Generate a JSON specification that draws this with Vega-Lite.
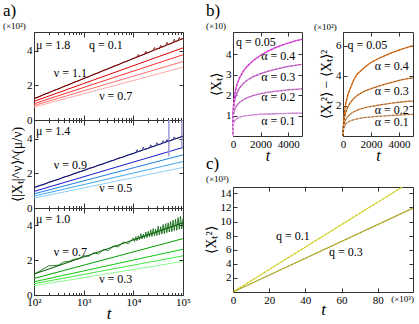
{
 "$schema": "https://vega.github.io/schema/vega-lite/v6.json",
 "autosize": {"type": "pad"},
 "padding": {"left": 2, "top": 1, "right": 0, "bottom": 0},
 "config": {
  "view": {"stroke": "#333", "strokeWidth": 1},
  "axis": {"domain": false, "grid": false, "tickColor": "#333", "labelFont": "Liberation Serif", "labelFontSize": 11, "labelColor": "#000", "titleFont": "Liberation Serif", "titleFontWeight": "normal", "titleFontSize": 14, "titleColor": "#000", "tickSize": -4, "labelPadding": 6, "labelFlush": false, "labelOverlap": false},
  "title": {"font": "Liberation Serif", "fontWeight": "normal", "anchor": "start", "frame": "group", "color": "#000", "subtitleFont": "Liberation Serif", "subtitleColor": "#000", "subtitleFontSize": 9},
  "text": {"font": "Liberation Serif", "fontSize": 12, "color": "#000"},
  "line": {"strokeWidth": 1}
 },
 "datasets": {
  "aline": [
   {"p":"a1","k":"1","t":100,"y":1.24},{"p":"a1","k":"1","t":100000,"y":4.72},
   {"p":"a1","k":"2","t":100,"y":1.08},{"p":"a1","k":"2","t":100000,"y":4.18},
   {"p":"a1","k":"3","t":100,"y":0.94},{"p":"a1","k":"3","t":100000,"y":3.78},
   {"p":"a1","k":"4","t":100,"y":0.84},{"p":"a1","k":"4","t":100000,"y":3.39},
   {"p":"a1","k":"5","t":100,"y":0.75},{"p":"a1","k":"5","t":100000,"y":3.06},
   {"p":"a2","k":"1","t":100,"y":1.18},{"p":"a2","k":"1","t":100000,"y":4.16},
   {"p":"a2","k":"2","t":100,"y":0.96},{"p":"a2","k":"2","t":100000,"y":3.51},
   {"p":"a2","k":"3","t":100,"y":0.82},{"p":"a2","k":"3","t":100000,"y":3.08},
   {"p":"a2","k":"4","t":100,"y":0.69},{"p":"a2","k":"4","t":100000,"y":2.69},
   {"p":"a2","k":"5","t":100,"y":0.57},{"p":"a2","k":"5","t":100000,"y":2.35},
   {"p":"a3","k":"1","t":100,"y":1.2},{"p":"a3","k":"1","t":100000,"y":4.15},
   {"p":"a3","k":"2","t":100,"y":0.95},{"p":"a3","k":"2","t":100000,"y":3.24},
   {"p":"a3","k":"3","t":100,"y":0.76},{"p":"a3","k":"3","t":100000,"y":2.63},
   {"p":"a3","k":"4","t":100,"y":0.65},{"p":"a3","k":"4","t":100000,"y":2.25},
   {"p":"a3","k":"5","t":100,"y":0.53},{"p":"a3","k":"5","t":100000,"y":1.93}
  ],
  "noisy": [
   {"t":100,"a1":1.24,"a2":1.18,"a3":1.2},
   {"t":125.9,"a1":1.33,"a2":1.3,"a3":1.35},
   {"t":158.5,"a1":1.49,"a2":1.36,"a3":1.52},
   {"t":199.5,"a1":1.58,"a2":1.5,"a3":1.68},
   {"t":251.2,"a1":1.72,"a2":1.59,"a3":1.69},
   {"t":316.2,"a1":1.8,"a2":1.66,"a3":1.72},
   {"t":398.1,"a1":1.95,"a2":1.8,"a3":1.9},
   {"t":501.2,"a1":2.04,"a2":1.86,"a3":1.93},
   {"t":631,"a1":2.19,"a2":1.99,"a3":2.05},
   {"t":794.3,"a1":2.27,"a2":2.09,"a3":2.1},
   {"t":1000,"a1":2.42,"a2":2.16,"a3":2.25},
   {"t":1258.9,"a1":2.5,"a2":2.3,"a3":2.22},
   {"t":1584.9,"a1":2.65,"a2":2.36,"a3":2.42},
   {"t":1995.3,"a1":2.74,"a2":2.49,"a3":2.36},
   {"t":2511.9,"a1":2.88,"a2":2.56,"a3":2.62},
   {"t":3162.3,"a1":2.97,"a2":2.69,"a3":2.55},
   {"t":3981.1,"a1":3.12,"a2":2.76,"a3":2.82},
   {"t":5011.9,"a1":3.2,"a2":2.89,"a3":2.76},
   {"t":6309.6,"a1":3.35,"a2":2.95,"a3":3.05},
   {"t":7943.3,"a1":3.43,"a2":3.09,"a3":2.95},
   {"t":10000,"a1":3.58,"a2":3.15,"a3":3.28},
   {"t":10593,"a1":3.57,"a2":3.21,"a3":3.08},
   {"t":11220,"a1":3.66,"a2":3.2,"a3":3.35},
   {"t":11885,"a1":3.62,"a2":3.38,"a3":3.12},
   {"t":12589,"a1":3.8,"a2":3.26,"a3":3.4},
   {"t":13335,"a1":3.69,"a2":3.3,"a3":3.18},
   {"t":14125,"a1":3.75,"a2":3.31,"a3":3.52},
   {"t":14962,"a1":3.74,"a2":3.35,"a3":3.22},
   {"t":15849,"a1":3.8,"a2":3.52,"a3":3.5},
   {"t":16788,"a1":3.79,"a2":3.39,"a3":3.25},
   {"t":17783,"a1":3.98,"a2":3.42,"a3":3.62},
   {"t":18836,"a1":3.86,"a2":3.43,"a3":3.3},
   {"t":19953,"a1":3.92,"a2":3.47,"a3":3.66},
   {"t":21135,"a1":3.91,"a2":3.48,"a3":3.34},
   {"t":22387,"a1":3.99,"a2":3.66,"a3":3.75},
   {"t":23714,"a1":3.97,"a2":3.54,"a3":3.36},
   {"t":25119,"a1":4.05,"a2":3.57,"a3":3.82},
   {"t":26607,"a1":4.2,"a2":3.58,"a3":3.4},
   {"t":28184,"a1":4.07,"a2":3.62,"a3":3.78},
   {"t":29854,"a1":4.12,"a2":3.78,"a3":3.42},
   {"t":31623,"a1":4.16,"a2":3.66,"a3":3.95},
   {"t":33497,"a1":4.14,"a2":3.69,"a3":3.46},
   {"t":35481,"a1":4.33,"a2":3.7,"a3":3.92},
   {"t":37584,"a1":4.21,"a2":3.74,"a3":3.5},
   {"t":39811,"a1":4.27,"a2":3.9,"a3":4.05},
   {"t":42170,"a1":4.26,"a2":3.79,"a3":3.52},
   {"t":44668,"a1":4.32,"a2":3.81,"a3":4.1},
   {"t":47315,"a1":4.5,"a2":3.97,"a3":3.58},
   {"t":50119,"a1":4.36,"a2":3.86,"a3":4.15},
   {"t":53088,"a1":4.42,"a2":3.89,"a3":3.62},
   {"t":56234,"a1":4.41,"a2":3.9,"a3":4.22},
   {"t":59566,"a1":4.47,"a2":3.95,"a3":3.64},
   {"t":63096,"a1":4.48,"a2":3.96,"a3":4.3},
   {"t":66834,"a1":4.68,"a2":4.12,"a3":3.7},
   {"t":70795,"a1":4.53,"a2":4.01,"a3":4.35},
   {"t":74989,"a1":4.59,"a2":4.04,"a3":3.72},
   {"t":79433,"a1":4.6,"a2":4.05,"a3":4.45},
   {"t":84140,"a1":4.78,"a2":4.09,"a3":3.78},
   {"t":89125,"a1":4.65,"a2":4.11,"a3":4.52},
   {"t":94406,"a1":4.7,"a2":4.15,"a3":3.8},
   {"t":100000,"a1":4.73,"a2":4.16,"a3":4.4}
  ],
  "err": [
   {"t":52000,"lo":3.0,"hi":5.1},
   {"t":95000,"lo":3.4,"hi":5.1}
  ],
  "bdat": [
   {"a":"0.4","t":0,"y1":0,"y2":0},{"a":"0.4","t":10,"y1":1.1,"y2":0.35},{"a":"0.4","t":30,"y1":1.45,"y2":0.8},{"a":"0.4","t":60,"y1":1.7,"y2":1.15},{"a":"0.4","t":100,"y1":1.92,"y2":1.5},{"a":"0.4","t":200,"y1":2.3,"y2":2.2},{"a":"0.4","t":350,"y1":2.64,"y2":2.75},{"a":"0.4","t":500,"y1":2.88,"y2":3.13},{"a":"0.4","t":750,"y1":3.18,"y2":3.7},{"a":"0.4","t":1000,"y1":3.4,"y2":4.1},{"a":"0.4","t":1500,"y1":3.72,"y2":4.55},{"a":"0.4","t":2000,"y1":3.96,"y2":4.9},{"a":"0.4","t":2500,"y1":4.15,"y2":5.15},{"a":"0.4","t":3000,"y1":4.31,"y2":5.35},{"a":"0.4","t":3500,"y1":4.44,"y2":5.55},{"a":"0.4","t":4000,"y1":4.56,"y2":5.72},{"a":"0.4","t":4500,"y1":4.66,"y2":5.88},{"a":"0.4","t":5000,"y1":4.74,"y2":6.02},
   {"a":"0.3","t":0,"y1":0,"y2":0},{"a":"0.3","t":10,"y1":1.0,"y2":0.3},{"a":"0.3","t":30,"y1":1.3,"y2":0.6},{"a":"0.3","t":60,"y1":1.5,"y2":0.9},{"a":"0.3","t":100,"y1":1.68,"y2":1.2},{"a":"0.3","t":200,"y1":1.95,"y2":1.6},{"a":"0.3","t":350,"y1":2.2,"y2":1.95},{"a":"0.3","t":500,"y1":2.38,"y2":2.2},{"a":"0.3","t":750,"y1":2.58,"y2":2.48},{"a":"0.3","t":1000,"y1":2.72,"y2":2.7},{"a":"0.3","t":1500,"y1":2.92,"y2":2.97},{"a":"0.3","t":2000,"y1":3.06,"y2":3.15},{"a":"0.3","t":2500,"y1":3.17,"y2":3.3},{"a":"0.3","t":3000,"y1":3.26,"y2":3.45},{"a":"0.3","t":3500,"y1":3.34,"y2":3.58},{"a":"0.3","t":4000,"y1":3.41,"y2":3.7},{"a":"0.3","t":4500,"y1":3.46,"y2":3.8},{"a":"0.3","t":5000,"y1":3.51,"y2":3.88},
   {"a":"0.2","t":0,"y1":0,"y2":0},{"a":"0.2","t":10,"y1":0.8,"y2":0.25},{"a":"0.2","t":30,"y1":1.0,"y2":0.45},{"a":"0.2","t":60,"y1":1.15,"y2":0.65},{"a":"0.2","t":100,"y1":1.25,"y2":0.85},{"a":"0.2","t":200,"y1":1.42,"y2":1.1},{"a":"0.2","t":350,"y1":1.56,"y2":1.3},{"a":"0.2","t":500,"y1":1.66,"y2":1.45},{"a":"0.2","t":750,"y1":1.78,"y2":1.6},{"a":"0.2","t":1000,"y1":1.87,"y2":1.72},{"a":"0.2","t":1500,"y1":1.99,"y2":1.87},{"a":"0.2","t":2000,"y1":2.08,"y2":1.97},{"a":"0.2","t":2500,"y1":2.14,"y2":2.05},{"a":"0.2","t":3000,"y1":2.19,"y2":2.12},{"a":"0.2","t":3500,"y1":2.23,"y2":2.19},{"a":"0.2","t":4000,"y1":2.26,"y2":2.25},{"a":"0.2","t":4500,"y1":2.29,"y2":2.3},{"a":"0.2","t":5000,"y1":2.31,"y2":2.33},
   {"a":"0.1","t":0,"y1":0,"y2":0},{"a":"0.1","t":10,"y1":0.45,"y2":0.2},{"a":"0.1","t":30,"y1":0.58,"y2":0.38},{"a":"0.1","t":60,"y1":0.66,"y2":0.52},{"a":"0.1","t":100,"y1":0.72,"y2":0.63},{"a":"0.1","t":200,"y1":0.81,"y2":0.8},{"a":"0.1","t":350,"y1":0.88,"y2":0.92},{"a":"0.1","t":500,"y1":0.92,"y2":1.0},{"a":"0.1","t":750,"y1":0.97,"y2":1.08},{"a":"0.1","t":1000,"y1":1.0,"y2":1.14},{"a":"0.1","t":1500,"y1":1.04,"y2":1.22},{"a":"0.1","t":2000,"y1":1.07,"y2":1.27},{"a":"0.1","t":2500,"y1":1.08,"y2":1.31},{"a":"0.1","t":3000,"y1":1.09,"y2":1.34},{"a":"0.1","t":3500,"y1":1.1,"y2":1.37},{"a":"0.1","t":4000,"y1":1.11,"y2":1.4},{"a":"0.1","t":4500,"y1":1.115,"y2":1.42},{"a":"0.1","t":5000,"y1":1.12,"y2":1.44}
  ],
  "cdat": [
   {"q":"0.1","t":0,"y":0},{"q":"0.1","t":93.5,"y":14.9},
   {"q":"0.3","t":0,"y":0},{"q":"0.3","t":99.5,"y":11.9}
  ]
 },
 "spacing": 12,
 "resolve": {"scale": {"color": "independent"}},
 "hconcat": [
  {
   "vconcat": [
    {
     "width": 149, "height": 88,
     "title": {"text": "\u00a0\u00a0a)", "subtitle": "(×10²)", "dx": -31, "fontSize": 17, "offset": 0, "subtitlePadding": 2},
     "resolve": {"axis": {"x": "independent", "y": "independent"}},
     "layer": [
      {"data": {"name": "aline"}, "transform": [{"filter": "datum.p == 'a1'"}], "mark": "line",
       "encoding": {
        "x": {"field": "t", "type": "quantitative", "scale": {"type": "log", "domain": [100, 100000], "nice": false},
              "axis": {"orient": "bottom", "values": [100,200,300,400,500,600,700,800,900,1000,2000,3000,4000,5000,6000,7000,8000,9000,10000,20000,30000,40000,50000,60000,70000,80000,90000,100000], "labels": false, "title": null,
                       "tickSize": {"condition": {"test": "datum.value == 100 || datum.value == 1000 || datum.value == 10000 || datum.value == 100000", "value": -5}, "value": -2.5}}},
        "y": {"field": "y", "type": "quantitative", "scale": {"domain": [0, 5.1], "nice": false}, "axis": {"orient": "left", "values": [0, 2, 4], "title": null, "labelOverlap": false}},
        "color": {"field": "k", "type": "nominal", "scale": {"domain": ["1","2","3","4","5"], "range": ["#7a0000","#e00000","#ff3030","#ff6a6a","#ffa8a8"]}, "legend": null}
       }},
      {"data": {"name": "noisy"}, "mark": {"type": "line", "color": "#6a0000", "strokeWidth": 0.8},
       "encoding": {
        "x": {"field": "t", "type": "quantitative", "axis": {"orient": "top", "values": [100,200,300,400,500,600,700,800,900,1000,2000,3000,4000,5000,6000,7000,8000,9000,10000,20000,30000,40000,50000,60000,70000,80000,90000,100000], "labels": false, "title": null,
                       "tickSize": {"condition": {"test": "datum.value == 100 || datum.value == 1000 || datum.value == 10000 || datum.value == 100000", "value": -5}, "value": -2.5}}},
        "y": {"field": "a1", "type": "quantitative", "axis": {"orient": "right", "values": [0, 2, 4], "labels": false, "title": null}}}},
      {"data": {"values": [{}]}, "mark": {"type": "text", "text": "μ = 1.8", "align": "left"}, "encoding": {"x": {"datum": 110, "axis": null}, "y": {"datum": 4.35, "axis": null}}},
      {"data": {"values": [{}]}, "mark": {"type": "text", "text": "q = 0.1", "align": "left"}, "encoding": {"x": {"datum": 1280, "axis": null}, "y": {"datum": 4.35, "axis": null}}},
      {"data": {"values": [{}]}, "mark": {"type": "text", "text": "ν = 1.1", "align": "left"}, "encoding": {"x": {"datum": 251, "axis": null}, "y": {"datum": 2.7, "axis": null}}},
      {"data": {"values": [{}]}, "mark": {"type": "text", "text": "ν = 0.7", "align": "left"}, "encoding": {"x": {"datum": 2050, "axis": null}, "y": {"datum": 1.41, "axis": null}}}
     ]
    },
    {
     "width": 149, "height": 88,
     "resolve": {"axis": {"x": "independent", "y": "independent"}},
     "layer": [
      {"data": {"name": "aline"}, "transform": [{"filter": "datum.p == 'a2'"}], "mark": "line",
       "encoding": {
        "x": {"field": "t", "type": "quantitative", "scale": {"type": "log", "domain": [100, 100000], "nice": false},
              "axis": {"orient": "bottom", "values": [100,200,300,400,500,600,700,800,900,1000,2000,3000,4000,5000,6000,7000,8000,9000,10000,20000,30000,40000,50000,60000,70000,80000,90000,100000], "labels": false, "title": null,
                       "tickSize": {"condition": {"test": "datum.value == 100 || datum.value == 1000 || datum.value == 10000 || datum.value == 100000", "value": -5}, "value": -2.5}}},
        "y": {"field": "y", "type": "quantitative", "scale": {"domain": [0, 5.1], "nice": false}, "axis": {"orient": "left", "values": [0, 2, 4], "title": "⟨|Xₜ|^ν⟩^(μ/ν)", "titlePadding": 2, "labelOverlap": false}},
        "color": {"field": "k", "type": "nominal", "scale": {"domain": ["1","2","3","4","5"], "range": ["#14147a","#1a1ad0","#1a80e0","#40a8f0","#90d0f8"]}, "legend": null}
       }},
      {"data": {"name": "err"}, "mark": {"type": "rule", "color": "#9a9ad8", "strokeWidth": 1.5},
       "encoding": {"x": {"field": "t", "type": "quantitative", "axis": null}, "y": {"field": "lo", "type": "quantitative", "axis": null}, "y2": {"field": "hi"}}},
      {"data": {"name": "noisy"}, "mark": {"type": "line", "color": "#10106a", "strokeWidth": 0.8},
       "encoding": {
        "x": {"field": "t", "type": "quantitative", "axis": {"orient": "top", "values": [100,200,300,400,500,600,700,800,900,1000,2000,3000,4000,5000,6000,7000,8000,9000,10000,20000,30000,40000,50000,60000,70000,80000,90000,100000], "labels": false, "title": null,
                       "tickSize": {"condition": {"test": "datum.value == 100 || datum.value == 1000 || datum.value == 10000 || datum.value == 100000", "value": -5}, "value": -2.5}}},
        "y": {"field": "a2", "type": "quantitative", "axis": {"orient": "right", "values": [0, 2, 4], "labels": false, "title": null}}}},
      {"data": {"values": [{}]}, "mark": {"type": "text", "text": "μ = 1.4", "align": "left"}, "encoding": {"x": {"datum": 110, "axis": null}, "y": {"datum": 4.47, "axis": null}}},
      {"data": {"values": [{}]}, "mark": {"type": "text", "text": "ν = 0.9", "align": "left"}, "encoding": {"x": {"datum": 251, "axis": null}, "y": {"datum": 2.47, "axis": null}}},
      {"data": {"values": [{}]}, "mark": {"type": "text", "text": "ν = 0.5", "align": "left"}, "encoding": {"x": {"datum": 2050, "axis": null}, "y": {"datum": 1.18, "axis": null}}}
     ]
    },
    {
     "width": 149, "height": 87,
     "resolve": {"axis": {"x": "independent", "y": "independent"}},
     "layer": [
      {"data": {"name": "aline"}, "transform": [{"filter": "datum.p == 'a3'"}], "mark": "line",
       "encoding": {
        "x": {"field": "t", "type": "quantitative", "scale": {"type": "log", "domain": [100, 100000], "nice": false},
              "axis": {"orient": "bottom", "values": [100,200,300,400,500,600,700,800,900,1000,2000,3000,4000,5000,6000,7000,8000,9000,10000,20000,30000,40000,50000,60000,70000,80000,90000,100000],
                       "labelExpr": "datum.value == 100 ? '10²' : datum.value == 1000 ? '10³' : datum.value == 10000 ? '10⁴' : datum.value == 100000 ? '10⁵' : ''",
                       "title": "t", "titleFontStyle": "italic", "titleFontSize": 17, "titlePadding": -4,
                       "tickSize": {"condition": {"test": "datum.value == 100 || datum.value == 1000 || datum.value == 10000 || datum.value == 100000", "value": -5}, "value": -2.5}}},
        "y": {"field": "y", "type": "quantitative", "scale": {"domain": [0, 5.0], "nice": false}, "axis": {"orient": "left", "values": [0, 2, 4], "title": null, "labelOverlap": false}},
        "color": {"field": "k", "type": "nominal", "scale": {"domain": ["1","2","3","4","5"], "range": ["#005a00","#00a000","#10c810","#40e840","#90f890"]}, "legend": null}
       }},
      {"data": {"name": "noisy"}, "mark": {"type": "line", "color": "#006000", "strokeWidth": 0.8},
       "encoding": {
        "x": {"field": "t", "type": "quantitative", "axis": {"orient": "top", "values": [100,200,300,400,500,600,700,800,900,1000,2000,3000,4000,5000,6000,7000,8000,9000,10000,20000,30000,40000,50000,60000,70000,80000,90000,100000], "labels": false, "title": null,
                       "tickSize": {"condition": {"test": "datum.value == 100 || datum.value == 1000 || datum.value == 10000 || datum.value == 100000", "value": -5}, "value": -2.5}}},
        "y": {"field": "a3", "type": "quantitative", "axis": {"orient": "right", "values": [0, 2, 4], "labels": false, "title": null}}}},
      {"data": {"values": [{}]}, "mark": {"type": "text", "text": "μ = 1.0", "align": "left"}, "encoding": {"x": {"datum": 110, "axis": null}, "y": {"datum": 4.34, "axis": null}}},
      {"data": {"values": [{}]}, "mark": {"type": "text", "text": "ν = 0.7", "align": "left"}, "encoding": {"x": {"datum": 251, "axis": null}, "y": {"datum": 2.46, "axis": null}}},
      {"data": {"values": [{}]}, "mark": {"type": "text", "text": "ν = 0.3", "align": "left"}, "encoding": {"x": {"datum": 2050, "axis": null}, "y": {"datum": 0.91, "axis": null}}}
     ]
    }
   ],
   "spacing": 0,
   "bounds": "flush",
   "resolve": {"scale": {"color": "independent"}}
  },
  {
   "vconcat": [
    {
     "hconcat": [
      {
       "width": 69, "height": 104,
       "title": {"text": "b)", "subtitle": "(×10)", "dx": -27, "fontSize": 17, "offset": 0, "subtitlePadding": 2},
       "data": {"name": "bdat"},
       "resolve": {"axis": {"x": "independent", "y": "independent"}},
       "layer": [
        {"mark": {"type": "line", "strokeWidth": 1.3},
         "encoding": {
          "x": {"field": "t", "type": "quantitative", "scale": {"domain": [0, 5000], "nice": false}, "axis": {"orient": "bottom", "values": [0, 2000, 4000], "format": "d", "title": "t", "titleFontStyle": "italic", "titleFontSize": 16, "titlePadding": -2}},
          "y": {"field": "y1", "type": "quantitative", "scale": {"domain": [0, 5.1], "nice": false}, "axis": {"orient": "left", "values": [1, 2, 3, 4], "title": "⟨Xₜ⟩", "titlePadding": 2, "labelOverlap": false}},
          "color": {"field": "a", "type": "nominal", "scale": {"domain": ["0.4","0.3","0.2","0.1"], "range": ["#c810c8","#b040b0","#b850b8","#c87ac8"]}, "legend": null}
         }},
        {"mark": {"type": "line", "strokeWidth": 0.6, "strokeDash": [2, 2], "color": "#f4c8f4"},
         "encoding": {"x": {"field": "t", "type": "quantitative", "axis": {"orient": "top", "values": [0, 2000, 4000], "labels": false, "title": null}}, "y": {"field": "y1", "type": "quantitative", "axis": {"orient": "right", "values": [1, 2, 3, 4], "labels": false, "title": null}}, "detail": {"field": "a"}}},
        {"data": {"values": [{}]}, "mark": {"type": "text", "text": "q = 0.05", "align": "left"}, "encoding": {"x": {"datum": 220, "axis": null}, "y": {"datum": 4.62, "axis": null}}},
        {"data": {"values": [{}]}, "mark": {"type": "text", "text": "α = 0.4", "align": "left"}, "encoding": {"x": {"datum": 2050, "axis": null}, "y": {"datum": 3.93, "axis": null}}},
        {"data": {"values": [{}]}, "mark": {"type": "text", "text": "α = 0.3", "align": "left"}, "encoding": {"x": {"datum": 2050, "axis": null}, "y": {"datum": 2.89, "axis": null}}},
        {"data": {"values": [{}]}, "mark": {"type": "text", "text": "α = 0.2", "align": "left"}, "encoding": {"x": {"datum": 2050, "axis": null}, "y": {"datum": 1.91, "axis": null}}},
        {"data": {"values": [{}]}, "mark": {"type": "text", "text": "α = 0.1", "align": "left"}, "encoding": {"x": {"datum": 2050, "axis": null}, "y": {"datum": 0.75, "axis": null}}}
       ]
      },
      {
       "width": 70, "height": 104,
       "title": {"text": "(×10²)", "fontSize": 9, "dx": -29, "offset": 0},
       "data": {"name": "bdat"},
       "resolve": {"axis": {"x": "independent", "y": "independent"}},
       "layer": [
        {"mark": {"type": "line", "strokeWidth": 1.3},
         "encoding": {
          "x": {"field": "t", "type": "quantitative", "scale": {"domain": [0, 5000], "nice": false}, "axis": {"orient": "bottom", "values": [0, 2000, 4000], "format": "d", "title": "t", "titleFontStyle": "italic", "titleFontSize": 16, "titlePadding": -2}},
          "y": {"field": "y2", "type": "quantitative", "scale": {"domain": [0, 6.93], "nice": false}, "axis": {"orient": "left", "values": [2, 4, 6], "title": "⟨Xₜ²⟩ − ⟨Xₜ⟩²", "titlePadding": 2, "labelOverlap": false}},
          "color": {"field": "a", "type": "nominal", "scale": {"domain": ["0.4","0.3","0.2","0.1"], "range": ["#e87010","#d88030","#d89458","#d8a878"]}, "legend": null}
         }},
        {"mark": {"type": "line", "strokeWidth": 0.6, "strokeDash": [2, 2], "color": "#6a3a10"},
         "encoding": {"x": {"field": "t", "type": "quantitative", "axis": {"orient": "top", "values": [0, 2000, 4000], "labels": false, "title": null}}, "y": {"field": "y2", "type": "quantitative", "axis": {"orient": "right", "values": [2, 4, 6], "labels": false, "title": null}}, "detail": {"field": "a"}}},
        {"data": {"values": [{}]}, "mark": {"type": "text", "text": "q = 0.05", "align": "left"}, "encoding": {"x": {"datum": 314, "axis": null}, "y": {"datum": 6.09, "axis": null}}},
        {"data": {"values": [{}]}, "mark": {"type": "text", "text": "α = 0.4", "align": "left"}, "encoding": {"x": {"datum": 2264, "axis": null}, "y": {"datum": 4.65, "axis": null}}},
        {"data": {"values": [{}]}, "mark": {"type": "text", "text": "α = 0.3", "align": "left"}, "encoding": {"x": {"datum": 2264, "axis": null}, "y": {"datum": 3.02, "axis": null}}},
        {"data": {"values": [{}]}, "mark": {"type": "text", "text": "α = 0.2", "align": "left"}, "encoding": {"x": {"datum": 2264, "axis": null}, "y": {"datum": 1.73, "axis": null}}},
        {"data": {"values": [{}]}, "mark": {"type": "text", "text": "α = 0.1", "align": "left"}, "encoding": {"x": {"datum": 2264, "axis": null}, "y": {"datum": 0.91, "axis": null}}}
       ]
      }
     ],
     "spacing": 41,
     "bounds": "flush",
     "resolve": {"scale": {"color": "independent"}}
    },
    {
     "width": 180, "height": 105,
     "title": {"text": "c)", "subtitle": "(×10³)", "dx": -27, "fontSize": 17, "offset": 0, "subtitlePadding": 2},
     "data": {"name": "cdat"},
     "resolve": {"axis": {"x": "independent", "y": "independent"}},
     "layer": [
      {"mark": {"type": "line", "strokeWidth": 1.2},
       "encoding": {
        "x": {"field": "t", "type": "quantitative", "scale": {"domain": [0, 99.5], "nice": false}, "axis": {"orient": "bottom", "values": [0, 20, 40, 60, 80], "title": "t", "titleFontStyle": "italic", "titleFontSize": 17, "titlePadding": -4}},
        "y": {"field": "y", "type": "quantitative", "scale": {"domain": [0, 14.9], "nice": false}, "axis": {"orient": "left", "values": [2, 4, 6, 8, 10, 12, 14], "title": "⟨Xₜ²⟩", "titlePadding": 2, "labelOverlap": false}},
        "color": {"field": "q", "type": "nominal", "scale": {"domain": ["0.1","0.3"], "range": ["#e4e43a","#b8b030"]}, "legend": null}
       }},
      {"mark": {"type": "line", "strokeWidth": 0.5, "strokeDash": [2, 2], "color": "#8a8420"},
       "encoding": {"x": {"field": "t", "type": "quantitative", "axis": {"orient": "top", "values": [0, 20, 40, 60, 80], "labels": false, "title": null}}, "y": {"field": "y", "type": "quantitative", "axis": {"orient": "right", "values": [2, 4, 6, 8, 10, 12, 14], "labels": false, "title": null}}, "detail": {"field": "q"}}},
      {"data": {"values": [{}]}, "mark": {"type": "text", "text": "q = 0.1", "align": "left"}, "encoding": {"x": {"datum": 23.8, "axis": null}, "y": {"datum": 7.9, "axis": null}}},
      {"data": {"values": [{}]}, "mark": {"type": "text", "text": "q = 0.3", "align": "left"}, "encoding": {"x": {"datum": 53, "axis": null}, "y": {"datum": 5.7, "axis": null}}},
      {"data": {"values": [{}]}, "mark": {"type": "text", "text": "(×10³)", "align": "left", "fontSize": 9}, "encoding": {"x": {"datum": 87.5, "axis": null}, "y": {"datum": -1, "axis": null}}}
     ]
    }
   ],
   "spacing": -10,
   "resolve": {"scale": {"color": "independent"}}
  }
 ]
}
